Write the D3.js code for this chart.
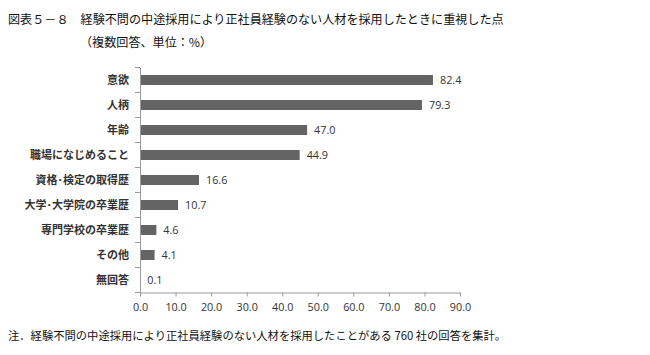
<!DOCTYPE html>
<html><head><meta charset="utf-8">
<script src="https://cdn.jsdelivr.net/npm/d3@7"></script>
<style>body{margin:0;background:#fff;} svg{display:block;}</style>
</head><body>
<svg id="c" width="650" height="355"></svg>
<script>
const categories = ["意欲","人柄","年齢","職場になじめること","資格･検定の取得歴","大学･大学院の卒業歴","専門学校の卒業歴","その他","無回答"];
const values = [82.4,79.3,47.0,44.9,16.6,10.7,4.6,4.1,0.1];
const xTicks = [0,10,20,30,40,50,60,70,80,90];
const titleText = "図表５－８　経験不問の中途採用により正社員経験のない人材を採用したときに重視した点";
const subtitleText = "（複数回答、単位：%）";
const noteText = "注．経験不問の中途採用により正社員経験のない人材を採用したことがある 760 社の回答を集計。";

const svg = d3.select("#c");
const jp = "'Noto Sans CJK JP', sans-serif";
const x = d3.scaleLinear().domain([0,90]).range([140,460]);
const y = d3.scaleBand().domain(categories).range([67.5,292.5]).paddingInner(0.6).paddingOuter(0.3);

svg.append("text").attr("x",8).attr("y",24).attr("font-family",jp).attr("font-size",12.1).attr("fill","#111").text(titleText);
svg.append("text").attr("x",80).attr("y",47).attr("font-family",jp).attr("font-size",12.1).attr("fill","#111").text(subtitleText);
svg.append("text").attr("x",8).attr("y",340).attr("font-family",jp).attr("font-size",11.3).attr("fill","#111").text(noteText);

// bars
svg.selectAll("rect.bar").data(values).enter().append("rect")
  .attr("x",x(0)).attr("y",(d,i)=>y(categories[i])).attr("width",d=>x(d)-x(0)).attr("height",y.bandwidth())
  .attr("fill","#646464");

// value labels
svg.selectAll("text.val").data(values).enter().append("text")
  .attr("x",d=>x(d)+7).attr("y",(d,i)=>y(categories[i])+y.bandwidth()/2+4)
  .attr("font-family","'Open Sans', sans-serif").attr("font-size",10.8).attr("fill","#333")
  .text(d=>d.toFixed(1));

// x axis
const xa = svg.append("g").attr("transform","translate(0,292.5)")
  .call(d3.axisBottom(x).tickValues(xTicks).tickFormat(d=>d.toFixed(1)).tickSize(4).tickSizeOuter(0));
xa.select(".domain").attr("stroke","#9a9a9a");
xa.selectAll(".tick line").attr("stroke","#9a9a9a");
xa.selectAll(".tick text").attr("font-family","'Open Sans', sans-serif").attr("font-size",10.8).attr("fill","#333").attr("dy","1.1em");

// y axis
const ya = svg.append("g").attr("transform","translate(140,0)")
  .call(d3.axisLeft(y).tickSize(0).tickPadding(11));
ya.select(".domain").attr("stroke","#9a9a9a");
ya.selectAll(".tick text").attr("font-family",jp).attr("font-size",11).attr("font-weight","bold").attr("fill","#333");
// boundary ticks
const bounds = d3.range(categories.length+1).map(i=>67.5 + i*y.step());
svg.selectAll("line.bt").data(bounds).enter().append("line")
  .attr("x1",135).attr("x2",140).attr("y1",d=>d).attr("y2",d=>d).attr("stroke","#9a9a9a");
</script>
</body></html>
